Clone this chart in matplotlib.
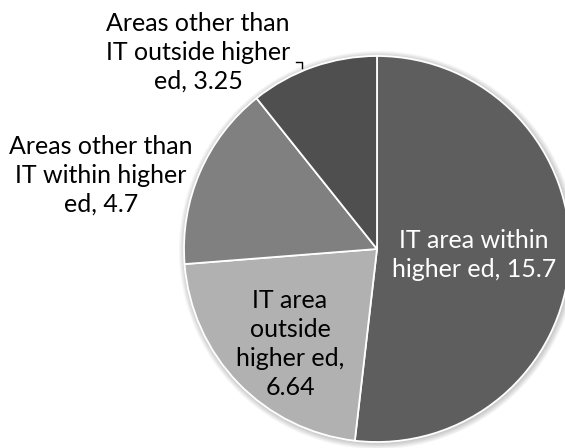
import matplotlib.pyplot as plt
from matplotlib.patches import Circle

# shares by area
areas = ['IT area within\nhigher ed', 'IT area\noutside\nhigher ed,\n', 'Areas other than\nIT within higher\ned', 'Areas other than\nIT outside higher\ned']
values = [15.7, 6.64, 4.7, 3.25]
colors = ['#5e5e5e', '#b1b1b1', '#808080', '#4f4f4f']
text_colors = ['white', 'black', 'black', 'black']

H = 448
fig = plt.figure(figsize=(5.65, 4.48), dpi=100)
ax = fig.add_axes([0, 0, 1, 1])

cx, cy, r = 377, H - 249, 193

# soft halo behind the pie
for i in range(6):
    ax.add_patch(Circle((cx + 1, cy - 1), r + 1 + i, color='#000000', alpha=0.035, zorder=0, lw=0))

wedges, _ = ax.pie(values, colors=colors, startangle=90, counterclock=False,
                   center=(cx, cy), radius=r, frame=True,
                   wedgeprops=dict(edgecolor='white', linewidth=1.3))
ax.set_xlim(0, 565)
ax.set_ylim(0, H)
ax.set_aspect('equal')
ax.axis('off')

def label(i):
    sep = '' if areas[i].endswith('\n') else ', '
    return f'{areas[i]}{sep}{values[i]}'

font = dict(family='Lato', fontsize=18, ha='center', va='center', linespacing=1.3)
positions = [(474, 255), (290, 344), (101, 175), (198, 52)]
for i, (x, y) in enumerate(positions):
    ax.text(x, H - y, label(i), color=text_colors[i], **font)

# leader line for the smallest slice
ax.plot([296, 302, 302], [H - 62, H - 62, H - 68], color='black', lw=1)

fig.savefig('out.png', dpi=100)
